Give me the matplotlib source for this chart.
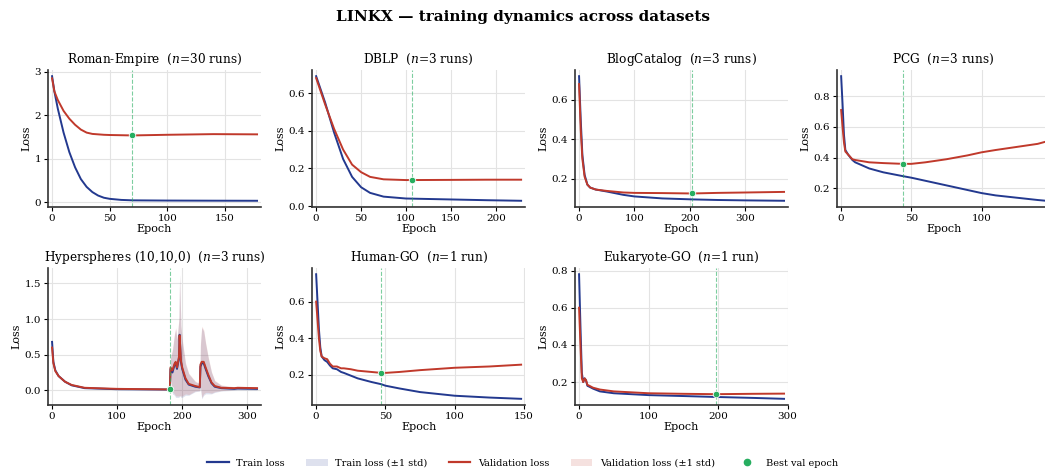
import matplotlib
matplotlib.use("Agg")
import matplotlib.pyplot as plt
from matplotlib.lines import Line2D
from matplotlib.patches import Patch
import numpy as np

plt.rcParams['font.family'] = ['DejaVu Serif']
plt.rcParams['mathtext.fontset'] = 'dejavuserif'

TRAIN_C = '#23398f'
VAL_C = '#c0392b'
BEST_C = '#27ae60'

# Roman-Empire
roman_ep = [0, 2, 5, 10, 15, 20, 25, 30, 35, 40, 45, 50, 60, 70, 100, 140, 178]
roman_train = [2.9, 2.55, 2.15, 1.6, 1.15, 0.8, 0.53, 0.35, 0.23, 0.15, 0.1, 0.075, 0.05, 0.04, 0.035, 0.032, 0.03]
roman_val = [2.85, 2.55, 2.35, 2.1, 1.92, 1.78, 1.67, 1.6, 1.57, 1.56, 1.55, 1.545, 1.54, 1.535, 1.55, 1.565, 1.56]
roman_best = (69, 1.535)

# DBLP
dblp_ep = [0, 10, 20, 30, 40, 50, 60, 75, 100, 150, 190, 228]
dblp_train = [0.69, 0.55, 0.39, 0.25, 0.155, 0.1, 0.07, 0.05, 0.04, 0.035, 0.031, 0.028]
dblp_val = [0.68, 0.54, 0.41, 0.3, 0.22, 0.18, 0.155, 0.142, 0.138, 0.139, 0.14, 0.14]
dblp_best = (107, 0.138)

# BlogCatalog
blog_ep = [0, 3, 6, 10, 15, 20, 30, 50, 80, 100, 150, 204, 250, 300, 370]
blog_train = [0.72, 0.5, 0.32, 0.22, 0.17, 0.155, 0.145, 0.135, 0.118, 0.11, 0.1, 0.095, 0.092, 0.09, 0.088]
blog_val = [0.68, 0.45, 0.3, 0.21, 0.17, 0.155, 0.145, 0.138, 0.13, 0.128, 0.127, 0.125, 0.128, 0.13, 0.133]
blog_best = (204, 0.125)

# PCG
pcg_ep = [0, 1, 2, 3, 5, 8, 10, 20, 30, 44, 50, 60, 75, 90, 100, 110, 125, 140, 146]
pcg_train = [0.93, 0.75, 0.55, 0.45, 0.42, 0.385, 0.37, 0.33, 0.305, 0.28, 0.27, 0.25, 0.22, 0.19, 0.17, 0.155, 0.14, 0.125, 0.12]
pcg_val = [0.71, 0.6, 0.5, 0.44, 0.42, 0.39, 0.385, 0.37, 0.365, 0.36, 0.36, 0.37, 0.39, 0.415, 0.435, 0.45, 0.47, 0.49, 0.505]
pcg_best = (44, 0.36)

# Hyperspheres (10,10,0)
hyp_ep = [0, 2, 5, 10, 20, 30, 50, 100, 150, 181, 182, 185, 188, 190, 192, 195, 196, 198, 200, 205,
          210, 220, 227, 228, 230, 233, 236, 240, 245, 250, 260, 280, 285, 315]
hyp_train = [0.68, 0.4, 0.28, 0.2, 0.12, 0.07, 0.03, 0.015, 0.012, 0.01, 0.3, 0.25, 0.35, 0.38, 0.3, 0.45, 0.78, 0.4, 0.3, 0.15,
             0.08, 0.05, 0.04, 0.33, 0.38, 0.38, 0.3, 0.2, 0.1, 0.05, 0.03, 0.02, 0.025, 0.02]
hyp_val = [0.6, 0.38, 0.27, 0.2, 0.12, 0.075, 0.035, 0.02, 0.015, 0.012, 0.32, 0.28, 0.37, 0.4, 0.32, 0.47, 0.77, 0.42, 0.32, 0.17,
           0.09, 0.06, 0.045, 0.36, 0.4, 0.4, 0.32, 0.22, 0.11, 0.06, 0.035, 0.03, 0.035, 0.03]
hyp_std = [0.0, 0.0, 0.0, 0.0, 0.0, 0.0, 0.0, 0.0, 0.0, 0.0, 0.15, 0.3, 0.42, 0.48, 0.4, 0.55, 0.85, 0.5, 0.4, 0.22,
           0.15, 0.07, 0.05, 0.3, 0.5, 0.45, 0.35, 0.25, 0.15, 0.08, 0.04, 0.02, 0.02, 0.02]
hyp_best = (181, 0.012)

# Human-GO
human_ep = [0, 1, 2, 3, 4, 6, 8, 10, 12, 15, 18, 20, 25, 30, 40, 47, 50, 60, 75, 100, 125, 148]
human_train = [0.75, 0.6, 0.45, 0.35, 0.3, 0.28, 0.27, 0.25, 0.235, 0.23, 0.215, 0.21, 0.195, 0.18, 0.16, 0.148, 0.14, 0.125, 0.105, 0.085, 0.075, 0.068]
human_val = [0.6, 0.5, 0.4, 0.33, 0.3, 0.29, 0.285, 0.26, 0.245, 0.245, 0.235, 0.235, 0.23, 0.222, 0.215, 0.21, 0.21, 0.215, 0.225, 0.238, 0.245, 0.255]
human_best = (47, 0.21)

# Eukaryote-GO
euk_ep = [0, 2, 4, 6, 8, 10, 12, 15, 20, 30, 50, 100, 150, 197, 250, 295]
euk_train = [0.78, 0.5, 0.25, 0.2, 0.22, 0.21, 0.18, 0.175, 0.165, 0.15, 0.14, 0.13, 0.125, 0.12, 0.115, 0.11]
euk_val = [0.6, 0.4, 0.22, 0.2, 0.22, 0.21, 0.185, 0.18, 0.17, 0.16, 0.15, 0.14, 0.137, 0.135, 0.137, 0.138]
euk_best = (197, 0.135)

panels = [
    ('Roman-Empire  ($n$=30 runs)', roman_ep, roman_train, roman_val, None, roman_best),
    ('DBLP  ($n$=3 runs)', dblp_ep, dblp_train, dblp_val, None, dblp_best),
    ('BlogCatalog  ($n$=3 runs)', blog_ep, blog_train, blog_val, None, blog_best),
    ('PCG  ($n$=3 runs)', pcg_ep, pcg_train, pcg_val, None, pcg_best),
    ('Hyperspheres (10,10,0)  ($n$=3 runs)', hyp_ep, hyp_train, hyp_val, hyp_std, hyp_best),
    ('Human-GO  ($n$=1 run)', human_ep, human_train, human_val, None, human_best),
    ('Eukaryote-GO  ($n$=1 run)', euk_ep, euk_train, euk_val, None, euk_best),
]

fig = plt.figure(figsize=(10.45, 4.71), dpi=100)
lefts = [0.0459, 0.2986, 0.5502, 0.8010]
bottoms = [0.5605, 0.140]
w, h = 0.204, 0.291

for i, (title, ep, tr, va, sd, best) in enumerate(panels):
    ax = fig.add_axes([lefts[i % 4], bottoms[i // 4], w, h])
    ep = np.array(ep)
    tr = np.array(tr)
    va = np.array(va)
    if sd is not None:
        sd = np.array(sd)
        ax.fill_between(ep, tr - sd, tr + sd, color=TRAIN_C, alpha=0.15, lw=0)
        ax.fill_between(ep, va - sd, va + sd, color=VAL_C, alpha=0.15, lw=0)
    ax.plot(ep, tr, color=TRAIN_C, lw=1.4)
    ax.plot(ep, va, color=VAL_C, lw=1.4)
    ax.axvline(best[0], color=BEST_C, ls='--', lw=0.8, alpha=0.6)
    ax.scatter([best[0]], [best[1]], s=22, color=BEST_C, edgecolor='white', linewidth=0.6, zorder=5)
    ax.margins(x=0.02)
    ax.set_title(title, fontsize=8.7, pad=5)
    ax.set_xlabel('Epoch', fontsize=8, labelpad=1)
    ax.set_ylabel('Loss', fontsize=8, labelpad=2)
    ax.tick_params(labelsize=7.5, length=3, pad=2)
    ax.grid(True, color='#e3e3e3', lw=0.8)
    ax.set_axisbelow(True)
    for s in ['top', 'right']:
        ax.spines[s].set_visible(False)
    for s in ['left', 'bottom']:
        ax.spines[s].set_color('#333333')
        ax.spines[s].set_linewidth(1.2)

fig.suptitle('LINKX — training dynamics across datasets', fontsize=11, fontweight='bold', y=0.978)

handles = [
    Line2D([], [], color=TRAIN_C, lw=1.6, label='Train loss'),
    Patch(facecolor=TRAIN_C, alpha=0.15, label='Train loss (±1 std)'),
    Line2D([], [], color=VAL_C, lw=1.6, label='Validation loss'),
    Patch(facecolor=VAL_C, alpha=0.15, label='Validation loss (±1 std)'),
    Line2D([], [], marker='o', ls='', color=BEST_C, markersize=4.5, label='Best val epoch'),
]
fig.legend(handles=handles, loc='lower center', ncol=5, frameon=False, fontsize=7,
           bbox_to_anchor=(0.5, -0.012), columnspacing=2.2, handlelength=2.2)

fig.savefig('out.png', dpi=100)
